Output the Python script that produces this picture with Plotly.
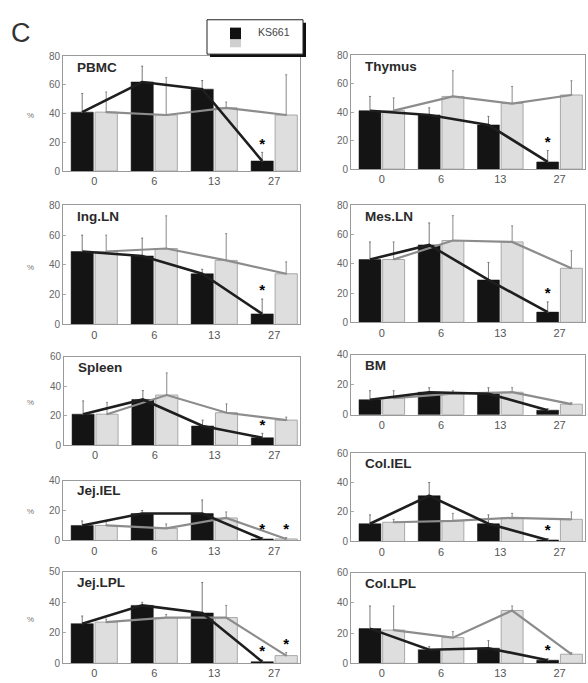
import numpy as np
import plotly.graph_objects as go

days = ["0", "6", "13", "27"]
panels = ["PBMC", "Thymus", "Ing.LN", "Mes.LN", "Spleen", "BM",
          "Jej.IEL", "Col.IEL", "Jej.LPL", "Col.LPL"]

# KS661 (black) and control (gray) means and upper error bars, % of cells
pbmc_ks = [41, 62, 57, 7];      pbmc_ks_err = [13, 11, 6, 6]
pbmc_ct = [41, 39, 44, 39];     pbmc_ct_err = [14, 26, 4, 28]
thymus_ks = [41, 38, 31, 5];    thymus_ks_err = [10, 5, 6, 8]
thymus_ct = [41, 51, 46, 52];   thymus_ct_err = [9, 18, 12, 10]
ingln_ks = [49, 46, 34, 7];     ingln_ks_err = [11, 12, 3, 10]
ingln_ct = [49, 51, 43, 34];    ingln_ct_err = [11, 22, 18, 8]
mesln_ks = [43, 53, 29, 7];     mesln_ks_err = [12, 15, 12, 7]
mesln_ct = [43, 56, 55, 37];    mesln_ct_err = [12, 17, 11, 12]
spleen_ks = [21, 31, 13, 5];    spleen_ks_err = [9, 6, 4, 3]
spleen_ct = [21, 34, 22, 17];   spleen_ct_err = [8, 15, 6, 2]
bm_ks = [10, 15, 14, 3];        bm_ks_err = [6, 3, 4, 1]
bm_ct = [11, 14, 15, 7];        bm_ct_err = [5, 2, 3, 1]
jejiel_ks = [10, 18, 18, 1];    jejiel_ks_err = [3, 2, 9, 1]
jejiel_ct = [10, 8, 15, 1];     jejiel_ct_err = [3, 3, 4, 1]
coliel_ks = [12, 31, 12, 1];    coliel_ks_err = [6, 9, 6, 1]
coliel_ct = [13, 14, 16, 15];   coliel_ct_err = [2, 5, 3, 5]
jejlpl_ks = [26, 38, 33, 1];    jejlpl_ks_err = [5, 2, 20, 1]
jejlpl_ct = [27, 30, 30, 5];    jejlpl_ct_err = [2, 2, 8, 2]
collpl_ks = [23, 9, 10, 2];     collpl_ks_err = [15, 2, 5, 1]
collpl_ct = [22, 17, 35, 6];    collpl_ct_err = [16, 4, 3, 1]

# significance stars: (series, day index)
stars = {
    "PBMC": [("ks", 3)], "Thymus": [("ks", 3)], "Ing.LN": [("ks", 3)],
    "Mes.LN": [("ks", 3)], "Spleen": [("ks", 3)], "BM": [],
    "Jej.IEL": [("ks", 3), ("ct", 3)], "Col.IEL": [("ks", 3)],
    "Jej.LPL": [("ks", 3), ("ct", 3)], "Col.LPL": [("ks", 3)],
}

y_max = [80, 80, 80, 80, 60, 40, 40, 60, 60, 60]
y_ticks = [[0, 20, 40, 60, 80]] * 4 + [[0, 20, 40, 60], [0, 20, 40], [0, 20, 40],
                                       [0, 20, 40, 60], [0, 20, 40, 60], [0, 20, 40, 60]]
y_ticktext = [[str(v) for v in t] for t in y_ticks]
y_ticktext[8] = ["0", "20", "40", "50"]

data = [
    (pbmc_ks, pbmc_ks_err, pbmc_ct, pbmc_ct_err),
    (thymus_ks, thymus_ks_err, thymus_ct, thymus_ct_err),
    (ingln_ks, ingln_ks_err, ingln_ct, ingln_ct_err),
    (mesln_ks, mesln_ks_err, mesln_ct, mesln_ct_err),
    (spleen_ks, spleen_ks_err, spleen_ct, spleen_ct_err),
    (bm_ks, bm_ks_err, bm_ct, bm_ct_err),
    (jejiel_ks, jejiel_ks_err, jejiel_ct, jejiel_ct_err),
    (coliel_ks, coliel_ks_err, coliel_ct, coliel_ct_err),
    (jejlpl_ks, jejlpl_ks_err, jejlpl_ct, jejlpl_ct_err),
    (collpl_ks, collpl_ks_err, collpl_ct, collpl_ct_err),
]

W, H = 588, 683
# pixel boxes (left, right, top, bottom) for each panel
boxes = [
    (63, 300, 51, 168), (351, 585, 50, 166),
    (63, 300, 203, 324), (351, 585, 203, 322),
    (64, 300, 357, 447), (351, 585, 355, 416),
    (63, 300, 483, 544), (351, 585, 455, 545),
    (63, 300, 576, 669), (351, 585, 577, 669),
]

FONT = "Liberation Sans, Arial, sans-serif"
fig = go.Figure()
layout = {}
annotations = []
idx = np.arange(len(days))
off = 0.2
bw = 0.37

for k, name in enumerate(panels):
    n = k + 1
    xa = "x" if n == 1 else f"x{n}"
    ya = "y" if n == 1 else f"y{n}"
    ks, kse, ct, cte = data[k]
    xk = idx - off
    xc = idx + off
    fig.add_trace(go.Bar(x=xk, y=ks, width=bw, xaxis=xa, yaxis=ya,
                         marker=dict(color="#141414", line=dict(color="#141414", width=0.5)),
                         showlegend=False,
                         error_y=dict(type="data", symmetric=False, array=kse,
                                      arrayminus=[0] * 4, color="#777", thickness=1, width=1)))
    fig.add_trace(go.Bar(x=xc, y=ct, width=bw, xaxis=xa, yaxis=ya,
                         marker=dict(color="#dedede", line=dict(color="#a8a8a8", width=1)),
                         showlegend=False,
                         error_y=dict(type="data", symmetric=False, array=cte,
                                      arrayminus=[0] * 4, color="#888", thickness=1, width=1)))
    fig.add_trace(go.Scatter(x=xc, y=ct, mode="lines", xaxis=xa, yaxis=ya,
                             line=dict(color="#8c8c8c", width=2.2), showlegend=False))
    fig.add_trace(go.Scatter(x=xk, y=ks, mode="lines", xaxis=xa, yaxis=ya,
                             line=dict(color="#1e1e1e", width=2.6), showlegend=False))
    sx, sy = [], []
    for ser, i in stars[name]:
        if ser == "ks":
            sx.append(xk[i]); sy.append(ks[i] + kse[i])
        else:
            sx.append(xc[i]); sy.append(ct[i] + cte[i])
    if sx:
        fig.add_trace(go.Scatter(x=sx, y=sy, mode="text", text=["<b>*</b>"] * len(sx),
                                 textposition="top center", xaxis=xa, yaxis=ya,
                                 textfont=dict(size=15, color="black", family=FONT),
                                 showlegend=False))
    l, r, t, b = boxes[k]
    layout["xaxis" if n == 1 else f"xaxis{n}"] = dict(
        domain=[l / W, r / W], anchor=ya, range=[-0.52, 3.43],
        tickvals=list(idx), ticktext=days, showline=True, mirror=True,
        linecolor="#9a9a9a", linewidth=1, showgrid=False, zeroline=False,
        ticks="", tickfont=dict(size=11, color="#555", family=FONT), fixedrange=True)
    layout["yaxis" if n == 1 else f"yaxis{n}"] = dict(
        domain=[1 - b / H, 1 - t / H], anchor=xa, range=[0, y_max[k]],
        tickvals=y_ticks[k], ticktext=y_ticktext[k], showline=True, mirror=True,
        linecolor="#9a9a9a", linewidth=1, showgrid=False, zeroline=False,
        ticks="inside", ticklen=3, tickcolor="#aaa",
        tickfont=dict(size=10, color="#666", family=FONT), fixedrange=True)
    annotations.append(dict(text=f"<b>{name}</b>", xref=f"{xa} domain", yref=f"{ya} domain",
                            x=0.05, y=0.985, xanchor="left", yanchor="top", showarrow=False,
                            font=dict(size=13.5, color="#2a2a2a", family=FONT)))
    if k % 2 == 0:
        annotations.append(dict(text="%", xref="paper", yref="paper", x=30 / W,
                                y=1 - (t + 0.52 * (b - t)) / H, xanchor="center",
                                yanchor="middle", showarrow=False,
                                font=dict(size=8, color="#777", family=FONT)))

annotations.append(dict(text="C", xref="paper", yref="paper", x=9 / W, y=1 - 27 / H,
                        xanchor="left", yanchor="middle", showarrow=False,
                        font=dict(size=27, color="#333", family=FONT)))
annotations.append(dict(text="KS661", xref="paper", yref="paper", x=256 / W, y=1 - 26 / H,
                        xanchor="left", yanchor="middle", showarrow=False,
                        font=dict(size=10.5, color="#444", family=FONT)))

shapes = [
    # legend shadow and box
    dict(type="rect", xref="paper", yref="paper", x0=210 / W, x1=306 / W,
         y0=1 - 52 / H, y1=1 - 17 / H, fillcolor="#111", line=dict(width=0), layer="above"),
    dict(type="rect", xref="paper", yref="paper", x0=207 / W, x1=303 / W,
         y0=1 - 49 / H, y1=1 - 14 / H, fillcolor="white",
         line=dict(color="#222", width=1), layer="above"),
    dict(type="rect", xref="paper", yref="paper", x0=230 / W, x1=241 / W,
         y0=1 - 34 / H, y1=1 - 22 / H, fillcolor="#111", line=dict(width=0), layer="above"),
    dict(type="rect", xref="paper", yref="paper", x0=230 / W, x1=241 / W,
         y0=1 - 42 / H, y1=1 - 34 / H, fillcolor="#cfcfcf", line=dict(width=0), layer="above"),
]

fig.update_layout(width=W, height=H, margin=dict(l=0, r=0, t=0, b=0),
                  paper_bgcolor="white", plot_bgcolor="white", barmode="overlay",
                  showlegend=False, annotations=annotations, shapes=shapes,
                  font=dict(family=FONT), **layout)
fig.write_html("out.html", config={"displayModeBar": False},
               post_script="document.body.style.margin='0';document.body.style.overflow='hidden';")
